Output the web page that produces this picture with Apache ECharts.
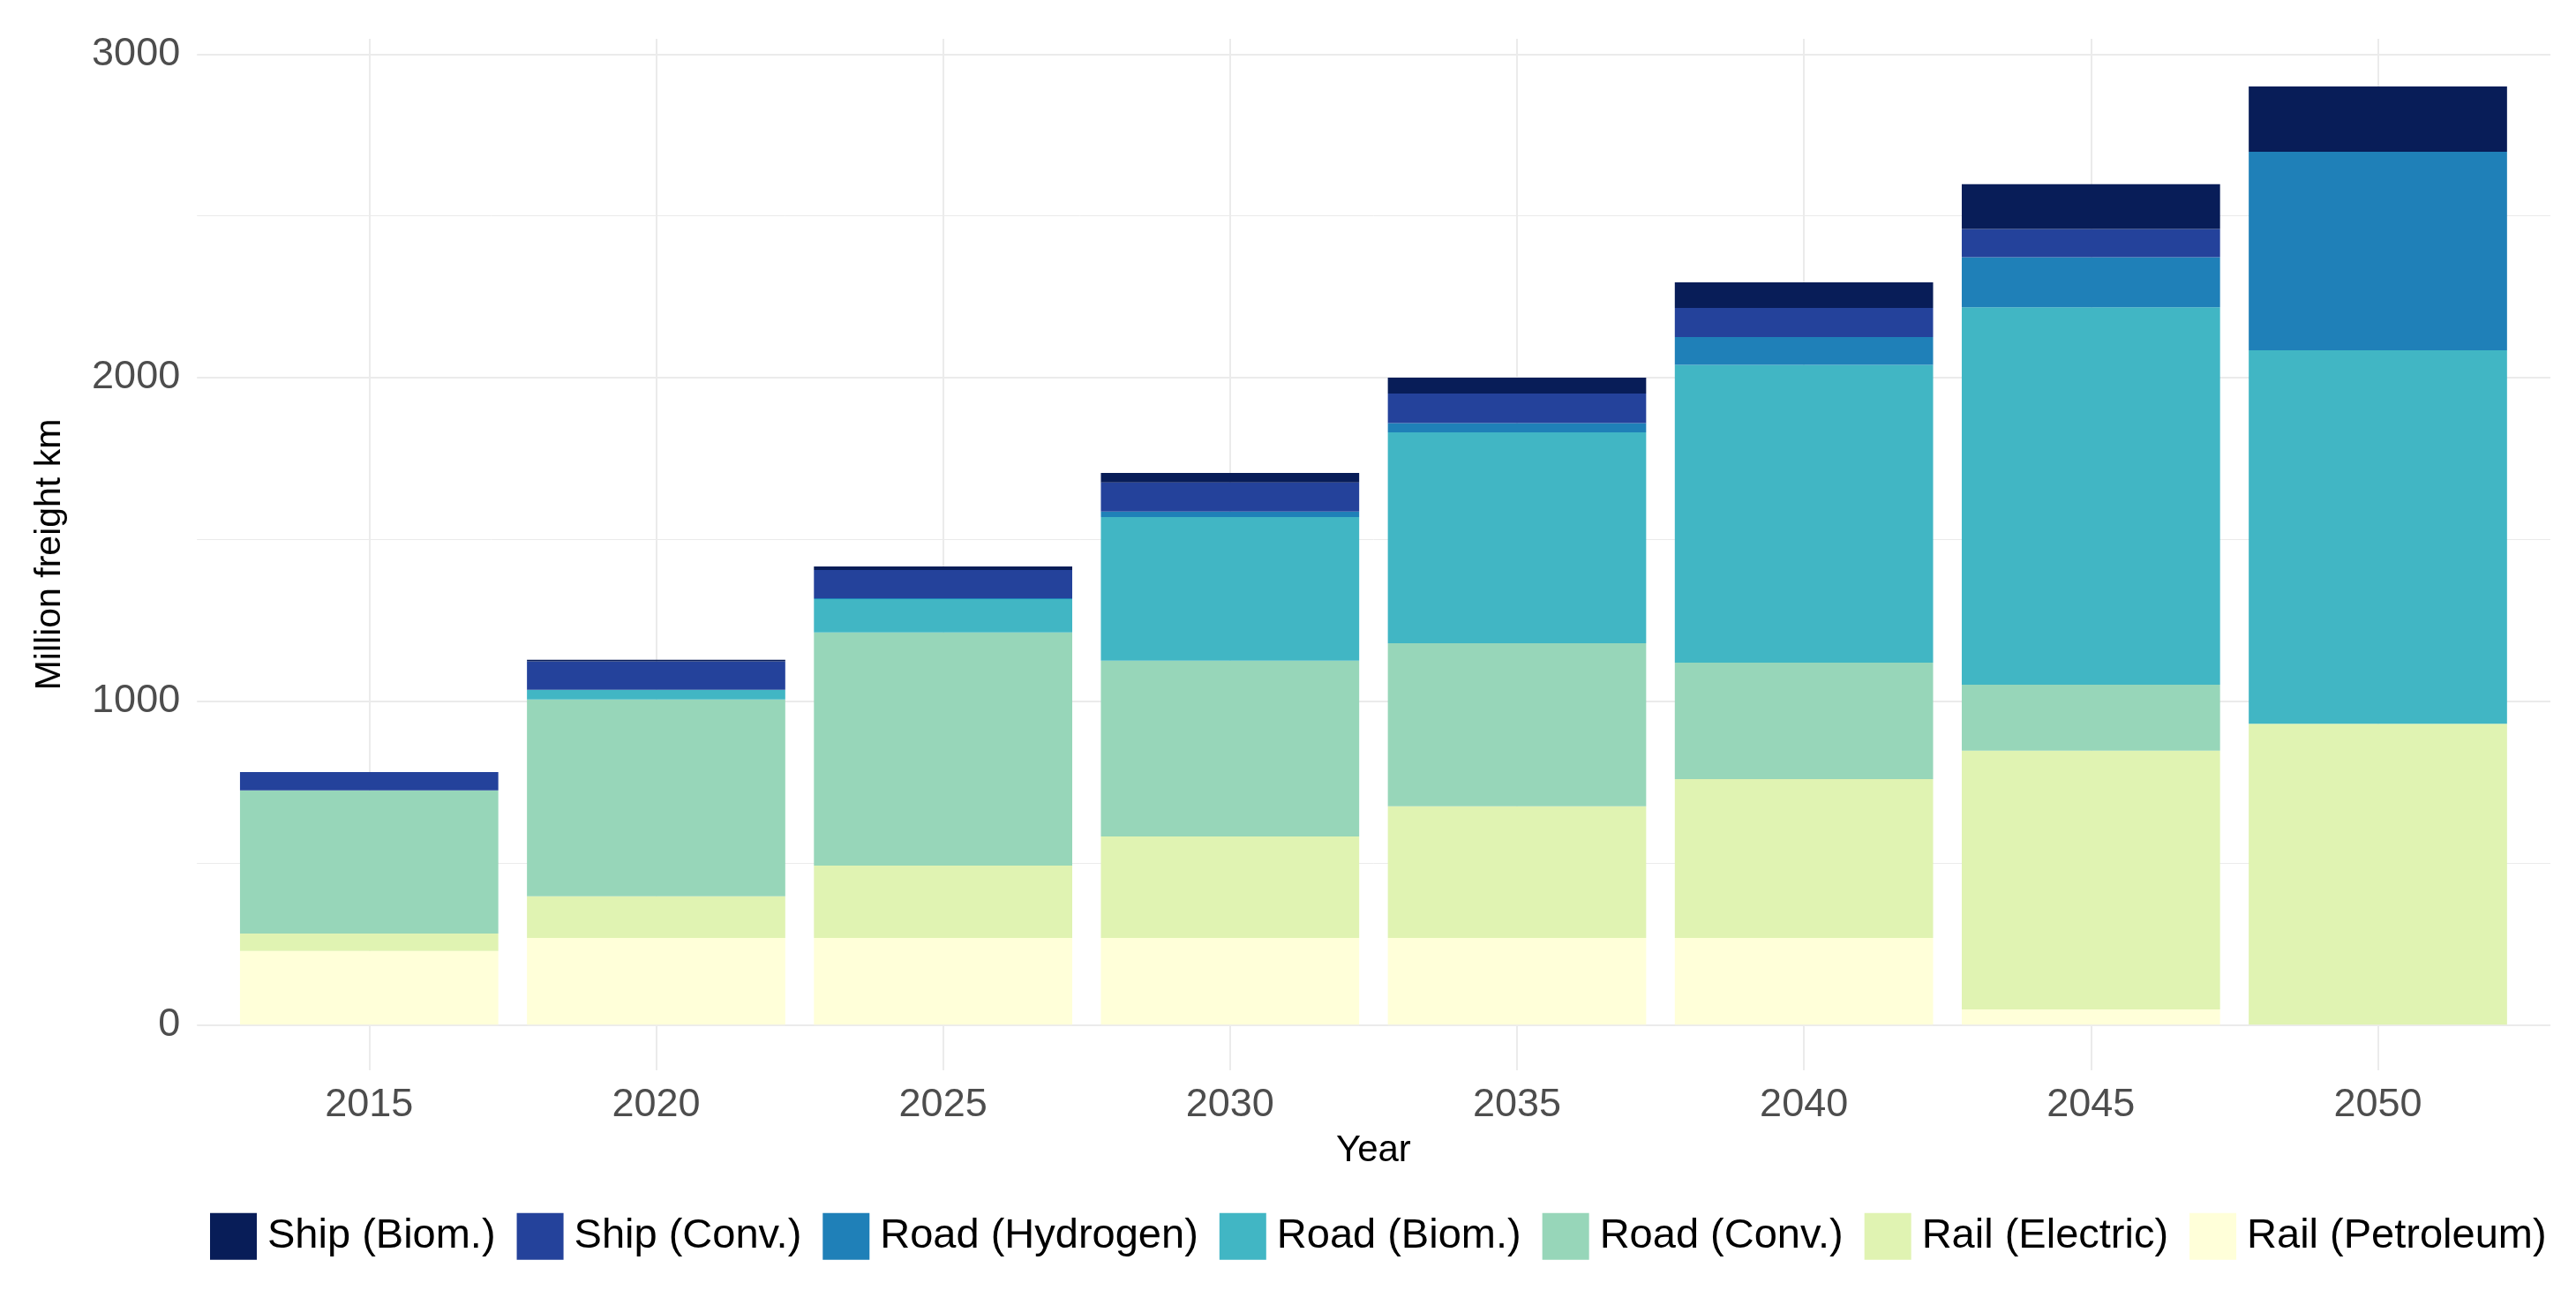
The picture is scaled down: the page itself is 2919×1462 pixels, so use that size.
<!DOCTYPE html>
<html>
<head>
<meta charset="utf-8">
<script src="https://cdn.jsdelivr.net/npm/echarts@6/dist/echarts.min.js"></script>
<style>
  html, body { margin: 0; padding: 0; background: #ffffff; }
  #chart { width: 2919px; height: 1462px; }
</style>
</head>
<body>
<div id="chart"></div>
<script>
// ---- Data (million freight km) ----
const years = ['2015', '2020', '2025', '2030', '2035', '2040', '2045', '2050'];

const railPetroleum = [228, 268, 268, 268, 268, 268, 47, 0];
const railElectric  = [54, 129, 224, 314, 407, 491, 800, 930];
const roadConv      = [442, 608, 720, 543, 504, 360, 204, 0];
const roadBiom      = [0, 30, 103, 444, 652, 920, 1166, 1154];
const roadHydrogen  = [0, 0, 3, 17, 28, 86, 155, 614];
const shipConv      = [57, 88, 87, 90, 92, 90, 87, 0];
const shipBiom      = [0, 5, 11, 29, 49, 79, 139, 202];

const yTicks = [0, 1000, 2000, 3000];

const seriesNames = ['Rail (Petroleum)', 'Rail (Electric)', 'Road (Conv.)', 'Road (Biom.)',
                     'Road (Hydrogen)', 'Ship (Conv.)', 'Ship (Biom.)'];
const seriesData = [railPetroleum, railElectric, roadConv, roadBiom, roadHydrogen, shipConv, shipBiom];
const seriesColors = ['#ffffd9', '#e0f3b2', '#97d6b9', '#41b6c4', '#1f80b8', '#24429b', '#081d58'];
const legendOrder = ['Ship (Biom.)', 'Ship (Conv.)', 'Road (Hydrogen)', 'Road (Biom.)',
                     'Road (Conv.)', 'Rail (Electric)', 'Rail (Petroleum)'];

const chart = echarts.init(document.getElementById('chart'), null, { renderer: 'canvas' });

const FONT = '"Liberation Sans", Arial, Helvetica, sans-serif';

const option = {
  animation: false,
  backgroundColor: '#ffffff',
  textStyle: { fontFamily: FONT },
  grid: [
    { left: 223.2, right: 29, top: 61.3, bottom: 300.7 },
    { left: 418.3, right: 224.5, top: 44, bottom: 249 }
  ],
  xAxis: [
    { gridIndex: 0, type: 'value', min: 0, max: 1, show: false },
    {
      gridIndex: 1, type: 'category', data: years, boundaryGap: false,
      axisLine: { show: false }, axisTick: { show: false },
      axisLabel: { interval: 0, fontSize: 45, color: '#4d4d4d', margin: 17, fontFamily: FONT },
      splitLine: { show: true, interval: 0, lineStyle: { color: '#ebebeb', width: 2 } },
      name: 'Year', nameLocation: 'middle', nameGap: 70,
      nameTextStyle: { fontSize: 42, color: '#000000', fontFamily: FONT }
    }
  ],
  yAxis: [
    {
      gridIndex: 0, type: 'value', min: yTicks[0], max: yTicks[yTicks.length - 1], interval: 1000,
      axisLine: { show: false }, axisTick: { show: false },
      axisLabel: { fontSize: 45, color: '#4d4d4d', margin: 19, padding: [6, 0, 0, 0], fontFamily: FONT,
                   formatter: v => String(v) },
      splitLine: { show: true, lineStyle: { color: '#ebebeb', width: 2 } },
      minorTick: { show: false, splitNumber: 2 },
      minorSplitLine: { show: true, lineStyle: { color: '#ebebeb', width: 1 } }
    },
    {
      gridIndex: 1, type: 'value', min: -141, max: 3047,
      axisLine: { show: false }, axisTick: { show: false },
      axisLabel: { show: false }, splitLine: { show: false },
      name: 'Million freight km', nameLocation: 'middle', nameGap: 341, nameRotate: 90,
      nameTextStyle: { fontSize: 41, color: '#000000', fontFamily: FONT }
    }
  ],
  legend: {
    data: legendOrder,
    left: 238, top: 1374.7, padding: 0,
    itemWidth: 53, itemHeight: 53, itemGap: 24,
    icon: 'rect', selectedMode: false,
    textStyle: { fontSize: 47, color: '#000000', fontFamily: FONT, padding: [4, 0, 0, 7] }
  },
  series: seriesNames.map((name, i) => ({
    name: name,
    type: 'bar',
    xAxisIndex: 1, yAxisIndex: 1,
    stack: 'total',
    barWidth: 292.7,
    clip: false,
    itemStyle: { color: seriesColors[i] },
    emphasis: { disabled: true },
    data: seriesData[i]
  }))
};

chart.setOption(option);
</script>
</body>
</html>
